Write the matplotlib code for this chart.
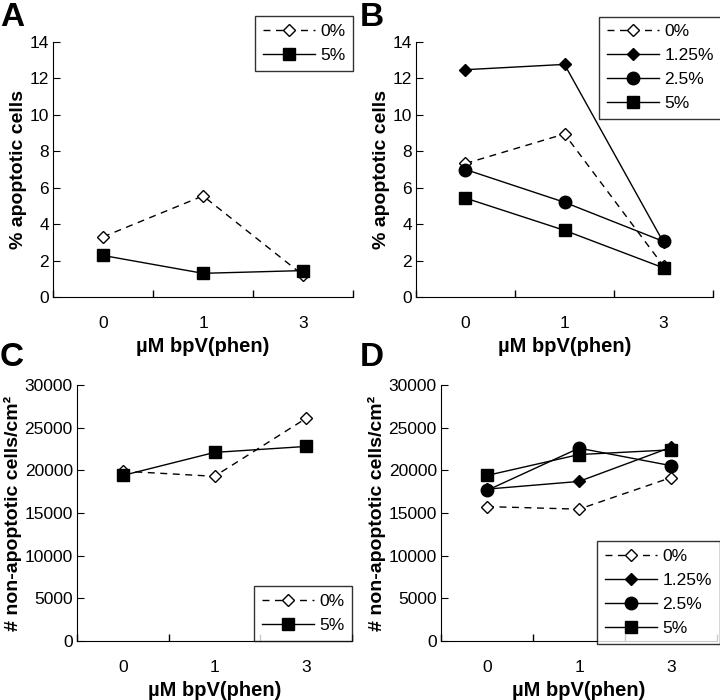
import numpy as np
import matplotlib.pyplot as plt

plt.rcParams['font.family'] = ['Liberation Sans', 'DejaVu Sans']

doses = ['0', '1', '3']

# % apoptotic cells
apo_A_0 = [3.3, 5.55, 1.2]
apo_A_5 = [2.28, 1.3, 1.45]
apo_B_0 = [7.33, 8.95, 1.7]
apo_B_125 = [12.48, 12.77, 3.0]
apo_B_25 = [7.0, 5.2, 3.05]
apo_B_5 = [5.43, 3.66, 1.6]

# non-apoptotic cells / cm2
non_C_0 = [19900, 19300, 26100]
non_C_5 = [19400, 22100, 22800]
non_D_0 = [15750, 15450, 19150]
non_D_125 = [17800, 18700, 22700]
non_D_25 = [17650, 22600, 20550]
non_D_5 = [19400, 21850, 22400]

styles = {
    '0%': dict(ls='--', marker='D', mfc='white', mec='black', ms=6.5, dashes=(5, 4)),
    '1.25%': dict(ls='-', marker='D', mfc='black', mec='black', ms=6),
    '2.5%': dict(ls='-', marker='o', mfc='black', mec='black', ms=9),
    '5%': dict(ls='-', marker='s', mfc='black', mec='black', ms=8),
}

fig = plt.figure(figsize=(7.2, 7.0), dpi=100)
W, H = 720, 700
def add_ax(l, r, t, b):
    return fig.add_axes([l / W, 1 - b / H, (r - l) / W, (b - t) / H])

axA = add_ax(53, 353, 42, 297)
axB = add_ax(416, 713, 42, 297)
axC = add_ax(77, 352, 385, 641)
axD = add_ax(441, 717, 385, 641)

def draw(ax, series, ymax, ystep, ylabel, leg_loc, leg_anchor):
    x = np.arange(len(doses))
    for lab, vals in series:
        ax.plot(x, vals, color='black', lw=1, label=lab, **styles[lab])
    ax.set_xlim(-0.5, 2.5)
    ax.set_ylim(0, ymax)
    ax.set_yticks(np.arange(0, ymax + 1, ystep))
    ax.set_xticks(x)
    ax.set_xticklabels(doses)
    ax.set_xticks([-0.5, 0.5, 1.5, 2.5], minor=True)
    ax.tick_params(axis='x', which='major', length=0, pad=14, labelsize=12.5)
    ax.tick_params(axis='x', which='minor', length=5, direction='in', width=1)
    ax.tick_params(axis='y', length=5, direction='in', labelsize=12.5, pad=3)
    ax.spines['top'].set_visible(False)
    ax.spines['right'].set_visible(False)
    ax.set_xlabel('µM bpV(phen)', fontsize=14.5, fontweight='bold', labelpad=4)
    ax.set_ylabel(ylabel, fontsize=14, fontweight='bold', labelpad=2)
    leg = ax.legend(loc=leg_loc, bbox_to_anchor=leg_anchor, fontsize=12.5,
                    frameon=True, fancybox=False, edgecolor='black',
                    handlelength=3.0, handletextpad=0.3, borderpad=0.45,
                    labelspacing=0.5, borderaxespad=0)
    leg.get_frame().set_linewidth(1)

draw(axA, [('0%', apo_A_0), ('5%', apo_A_5)], 14, 2, '% apoptotic cells',
     'upper right', (1.0, 1.1))
draw(axB, [('0%', apo_B_0), ('1.25%', apo_B_125), ('2.5%', apo_B_25), ('5%', apo_B_5)],
     14, 2, '% apoptotic cells', 'upper right', (1.03, 1.1))
draw(axC, [('0%', non_C_0), ('5%', non_C_5)], 30000, 5000,
     '# non-apoptotic cells/cm²', 'lower right', (1.0, 0.0))
draw(axD, [('0%', non_D_0), ('1.25%', non_D_125), ('2.5%', non_D_25), ('5%', non_D_5)],
     30000, 5000, '# non-apoptotic cells/cm²', 'lower right', (1.01, -0.01))

for lab, xx, yy in [('A', 0, 2), ('B', 360, 2), ('C', 0, 342), ('D', 360, 342)]:
    fig.text(xx / W, 1 - yy / H, lab, fontsize=24, fontweight='bold', va='top', ha='left')

fig.savefig('out.png', dpi=100)
